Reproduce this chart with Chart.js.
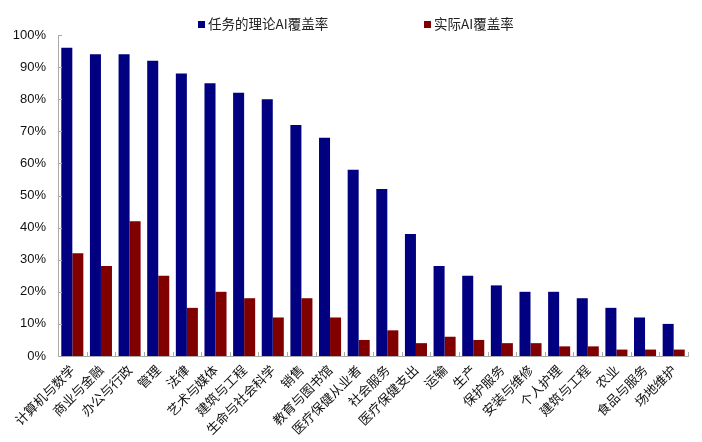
<!DOCTYPE html>
<html>
<head>
<meta charset="utf-8">
<script src="https://cdn.jsdelivr.net/npm/chart.js@4"></script>
<style>
  html, body { margin: 0; padding: 0; background: #fff; }
  #wrap { width: 702px; height: 442px; }
</style>
</head>
<body>
<div id="wrap"><canvas id="chart"></canvas></div>
<script>
// AI覆盖率 by occupation group
const categories = ['计算机与数学', '商业与金融', '办公与行政', '管理', '法律', '艺术与媒体', '建筑与工程',
    '生命与社会科学', '销售', '教育与图书馆', '医疗保健从业者', '社会服务', '医疗保健支出', '运输', '生产',
    '保护服务', '安装与维修', '个人护理', '建筑与工程', '农业', '食品与服务', '场地维护'];
const theoretical = [96, 94, 94, 92, 88, 85, 82, 80, 72, 68, 58, 52, 38, 28, 25, 22, 20, 20, 18, 15, 12, 10];
const actual = [32, 28, 42, 25, 15, 20, 18, 12, 18, 12, 5, 8, 4, 6, 5, 4, 4, 3, 3, 2, 2, 2];
const yTicks = [0, 10, 20, 30, 40, 50, 60, 70, 80, 90, 100];

const cjk = '"Noto Sans CJK SC", "Liberation Sans", Arial, sans-serif';

// legend drawn by hand so the two items can sit far apart like the original
const topLegend = {
    id: 'topLegend',
    afterDraw(chart) {
        const c = chart.ctx;
        const xs = [198, 424];
        c.save();
        c.font = '13.5px ' + cjk;
        c.textBaseline = 'middle';
        chart.data.datasets.forEach((ds, i) => {
            c.fillStyle = ds.backgroundColor;
            c.fillRect(xs[i], 21, 7, 7);
            c.fillStyle = '#222';
            c.fillText(ds.label, xs[i] + 10, 24);
        });
        c.restore();
    }
};

// short tick marks pointing into the plot, like the original
const innerTicks = {
    id: 'innerTicks',
    afterDatasetsDraw(chart) {
        const c = chart.ctx;
        const { y } = chart.scales;
        const a = chart.chartArea;
        c.save();
        c.strokeStyle = '#aaa';
        c.lineWidth = 1;
        c.beginPath();
        yTicks.forEach(v => {
            const py = Math.round(y.getPixelForValue(v)) + 0.5;
            c.moveTo(a.left, py);
            c.lineTo(a.left + 4, py);
        });
        const step = (a.right - a.left) / categories.length;
        for (let i = 1; i <= categories.length; i++) {
            const px = Math.round(a.left + step * i) + 0.5;
            c.moveTo(px, a.bottom);
            c.lineTo(px, a.bottom - 4);
        }
        c.stroke();
        c.restore();
    }
};

const ctx = document.getElementById('chart').getContext('2d');
const chart = new Chart(ctx, {
    type: 'bar',
    data: {
        labels: categories,
        datasets: [{
            label: '任务的理论AI覆盖率',
            data: theoretical,
            backgroundColor: '#000080',
            categoryPercentage: 0.77,
            barPercentage: 1.0,
        }, {
            label: '实际AI覆盖率',
            data: actual,
            backgroundColor: '#800000',
            categoryPercentage: 0.77,
            barPercentage: 1.0,
        }],
    },
    options: {
        responsive: true,
        maintainAspectRatio: false,
        animation: false,
        layout: { padding: { left: 0, top: 35, right: 14, bottom: 0 } },
        plugins: {
            legend: { display: false },
            tooltip: { enabled: false },
        },
        scales: {
            x: {
                grid: { display: false, drawTicks: false },
                border: { color: '#aaa' },
                ticks: {
                    color: '#111',
                    font: { family: cjk, size: 13 },
                    minRotation: 45,
                    maxRotation: 45,
                    autoSkip: false,
                    padding: 6,
                },
                afterFit(scale) { scale.height = 86; },
            },
            y: {
                min: 0,
                max: 100,
                afterBuildTicks(scale) { scale.ticks = yTicks.map(v => ({ value: v })); },
                grid: { display: false, drawTicks: false },
                border: { color: '#aaa' },
                ticks: {
                    color: '#111',
                    font: { family: '"Liberation Sans", Arial, sans-serif', size: 13 },
                    callback: v => v + '%',
                    padding: 12,
                },
                afterFit(scale) { scale.width = 58; },
            },
        },
    },
    plugins: [topLegend, innerTicks],
});
</script>
</body>
</html>
